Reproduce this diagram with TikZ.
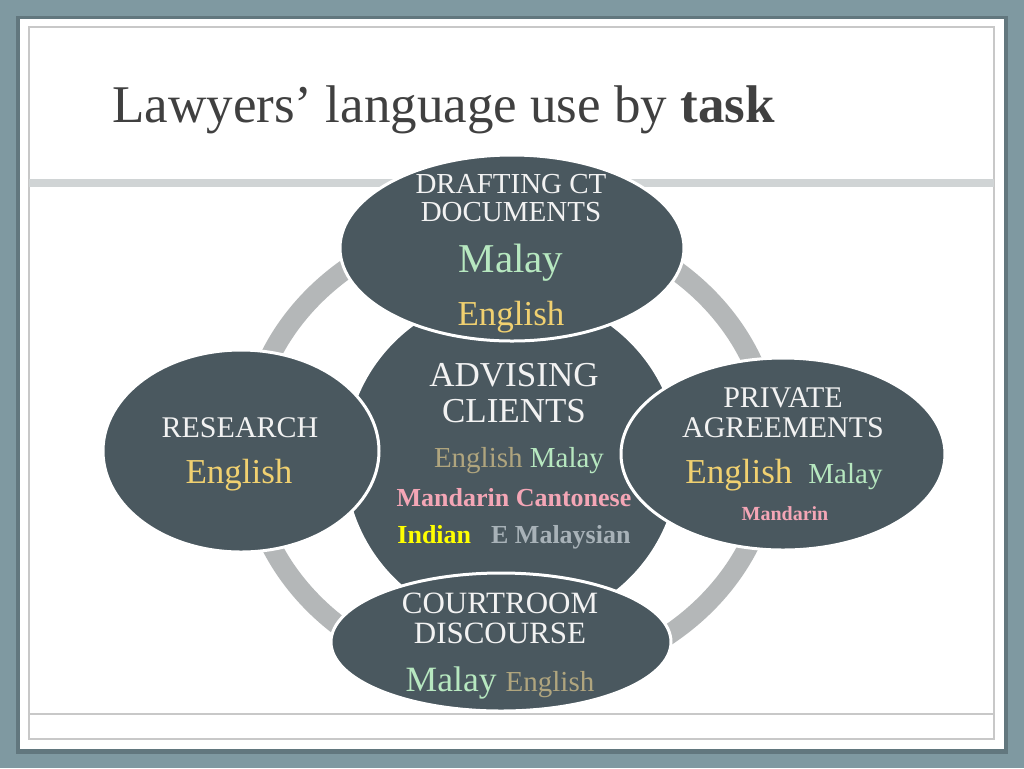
\documentclass[tikz,border=0pt]{standalone}
\usepackage{fontspec}
\setmainfont{Liberation Serif}
\usetikzlibrary{shapes.geometric}
\definecolor{frameblue}{RGB}{127,153,161}
\definecolor{shadowgrey}{RGB}{98,119,126}
\definecolor{slate}{RGB}{74,88,95}
\definecolor{ringgrey}{RGB}{180,183,184}
\definecolor{bargrey}{RGB}{208,212,213}
\definecolor{rulegrey}{RGB}{200,200,200}
\definecolor{titlegrey}{RGB}{64,64,64}
\definecolor{capwhite}{RGB}{242,242,242}
\definecolor{malaygreen}{RGB}{183,232,192}
\definecolor{engyellow}{RGB}{240,208,112}
\definecolor{engtan}{RGB}{176,165,126}
\definecolor{mandpink}{RGB}{244,166,182}
\definecolor{indyellow}{RGB}{255,255,0}
\definecolor{emgrey}{RGB}{168,178,184}

\begin{document}
\begin{tikzpicture}[x=0.5pt, y=-0.5pt,
    blob/.style={ellipse, draw=white, line width=1.5pt, fill=slate, inner sep=0pt},
    capline/.style={anchor=base, inner sep=0pt, text=capwhite, font=\fontsize{15}{17}\selectfont},
    langline/.style={anchor=base, inner sep=0pt}]
        \useasboundingbox (0,0) rectangle (1024,768);
        % Slide
        \fill[frameblue] (0,0) rectangle (1024,768);
        \fill[shadowgrey] (16,16) rectangle (1008,754);
        \fill[white] (20,19) rectangle (1004,749);
        \draw[rulegrey, line width=0.6pt] (29,27) rectangle (994,739);
        \draw[rulegrey, line width=0.6pt] (29,714) -- (994,714);
        \fill[bargrey] (29,179) rectangle (994,187);
        \node[anchor=base west, inner sep=0pt, text=titlegrey, font=\fontsize{26.5}{30}\selectfont] (title) at (112,122) {Lawyers’ language use by \textbf{task}};

        % Ring
        \draw[ringgrey, line width=10pt] (510,450) ellipse [x radius=262, y radius=232];

        % Ellipses
        \node[blob, minimum width=168pt, minimum height=168pt] (advising) at (512,460) {};
        \node[blob, minimum width=172pt, minimum height=93pt] (drafting) at (512,248) {};
        \node[blob, minimum width=138pt, minimum height=101pt] (research) at (241,451) {};
        \node[blob, minimum width=162pt, minimum height=96pt] (private) at (783,454) {};
        \node[blob, minimum width=170pt, minimum height=69pt] (courtroom) at (501,642) {};

        % Drafting
        \node[capline, font=\fontsize{14.5}{17}\selectfont] (draftA) at (511,193) {DRAFTING CT};
        \node[capline, font=\fontsize{14.5}{17}\selectfont] (draftB) at (511,221) {DOCUMENTS};
        \node[langline, text=malaygreen, font=\fontsize{20.5}{24}\selectfont] (draftMalay) at (511,272) {Malay};
        \node[langline, text=engyellow, font=\fontsize{17.5}{20}\selectfont] (draftEnglish) at (511,325) {English};

        % Advising
        \node[capline, font=\fontsize{17.5}{20}\selectfont] (adviseA) at (514,386) {ADVISING};
        \node[capline, font=\fontsize{17.5}{20}\selectfont] (adviseB) at (514,422) {CLIENTS};
        \node[langline, font=\fontsize{14.5}{17}\selectfont] (adviseEM) at (519,467) {\textcolor{engtan}{English} \textcolor{malaygreen}{Malay}};
        \node[langline, text=mandpink, font=\bfseries\fontsize{13}{15}\selectfont] (adviseMC) at (514,506) {Mandarin Cantonese};
        \node[langline, font=\bfseries\fontsize{13}{15}\selectfont] (adviseIE) at (514,543) {\textcolor{indyellow}{Indian}\hspace{10pt}\textcolor{emgrey}{E Malaysian}};

        % Research
        \node[capline] (researchA) at (240,437) {RESEARCH};
        \node[langline, text=engyellow, font=\fontsize{17.5}{20}\selectfont] (researchEnglish) at (239,483) {English};

        % Private agreements
        \node[capline] (privateA) at (783,407) {PRIVATE};
        \node[capline] (privateB) at (783,437) {AGREEMENTS};
        \node[langline] (privateEM) at (784,483) {\textcolor{engyellow}{\fontsize{17.5}{20}\selectfont English}\hspace{8pt}\textcolor{malaygreen}{\fontsize{14.5}{17}\selectfont Malay}};
        \node[langline, text=mandpink, font=\bfseries\fontsize{10}{12}\selectfont] (privateMand) at (785,520) {Mandarin};

        % Courtroom
        \node[capline, font=\fontsize{15.5}{18}\selectfont] (courtA) at (500,613) {COURTROOM};
        \node[capline, font=\fontsize{15.5}{18}\selectfont] (courtB) at (500,643) {DISCOURSE};
        \node[langline] (courtME) at (500,691) {\textcolor{malaygreen}{\fontsize{17.8}{20}\selectfont Malay}\hspace{4.5pt}\textcolor{engtan}{\fontsize{14.5}{17}\selectfont English}};
\end{tikzpicture}
\end{document}
